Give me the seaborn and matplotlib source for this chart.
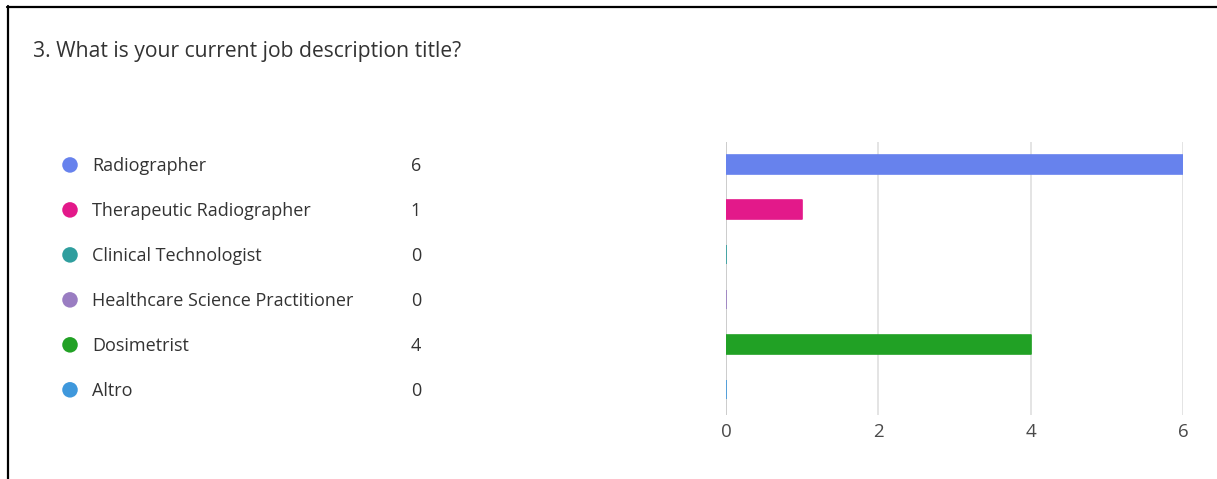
import matplotlib
matplotlib.use("Agg")
import matplotlib.pyplot as plt
import seaborn as sns
import pandas as pd

# Survey answers
categories = [
    "Radiographer",
    "Therapeutic Radiographer",
    "Clinical Technologist",
    "Healthcare Science Practitioner",
    "Dosimetrist",
    "Altro",
]
counts = [6, 1, 0, 0, 4, 0]
colors = ["#6782ED", "#E3198A", "#2F9E9E", "#9A7DC2", "#21A125", "#3F98DC"]
x_ticks = [0, 2, 4, 6]
title = "3. What is your current job description title?"

sns.set_theme(style="white")
plt.rcParams["font.family"] = ["Open Sans", "DejaVu Sans"]

df = pd.DataFrame({"category": categories, "count": counts})

W, H = 1217, 479
fig = plt.figure(figsize=(W / 100, H / 100), dpi=100)
fig.patch.set_facecolor("white")

n = len(categories)
y_lo, y_hi = n - 0.43, -0.5

# Bar panel
ax = fig.add_axes([726 / W, 1 - 415 / H, (1183 - 726) / W, (415 - 142) / H])
sns.barplot(data=df, y="category", x="count", hue="category", palette=colors,
            order=categories, hue_order=categories, legend=False,
            width=0.41, ax=ax, saturation=1)
for bar, c in zip(ax.patches, colors):
    bar.set_edgecolor(c)
    bar.set_linewidth(1.2)
    bar.set_joinstyle("round")
    bar.set_zorder(3)
ax.set_xlim(0, 6)
ax.set_ylim(y_lo, y_hi)
ax.set_xticks(x_ticks)
ax.set_xticklabels([str(t) for t in x_ticks], fontsize=13.5, color="#4a4a4a")
ax.set_yticks([])
ax.set_xlabel("")
ax.set_ylabel("")
ax.tick_params(axis="x", length=0, pad=6)
for s in ax.spines.values():
    s.set_visible(False)
for t in x_ticks:
    ax.axvline(t, color="#c8c8c8" if t == 0 else "#e2e2e2", lw=1.3, zorder=1)

# Legend panel with category names and counts
lax = fig.add_axes([0, 1 - 415 / H, 600 / W, (415 - 142) / H])
lax.set_xlim(0, 600)
lax.set_ylim(y_lo, y_hi)
lax.axis("off")
ypos = list(range(n))
lax.scatter([70] * n, [y + 0.01 for y in ypos], s=125, c=colors, edgecolors="none")
for y, name, v in zip(ypos, categories, counts):
    lax.text(92, y + 0.03, name, fontsize=13, color="#333333", va="center", ha="left")
    lax.text(416, y + 0.03, str(v), fontsize=13, color="#333333", va="center", ha="center")

# Title
fig.text(33 / W, 1 - 52 / H, title, fontsize=15.2, color="#333333", va="center", ha="left")

# Frame lines on the left and top edges
fig.add_artist(plt.Line2D([7.5 / W, 7.5 / W], [0, 1 - 6 / H], color="black", lw=1.6,
                          transform=fig.transFigure))
fig.add_artist(plt.Line2D([7 / W, 1], [1 - 6.5 / H, 1 - 6.5 / H], color="black", lw=1.6,
                          transform=fig.transFigure))

fig.savefig("out.png", dpi=100, facecolor="white")
